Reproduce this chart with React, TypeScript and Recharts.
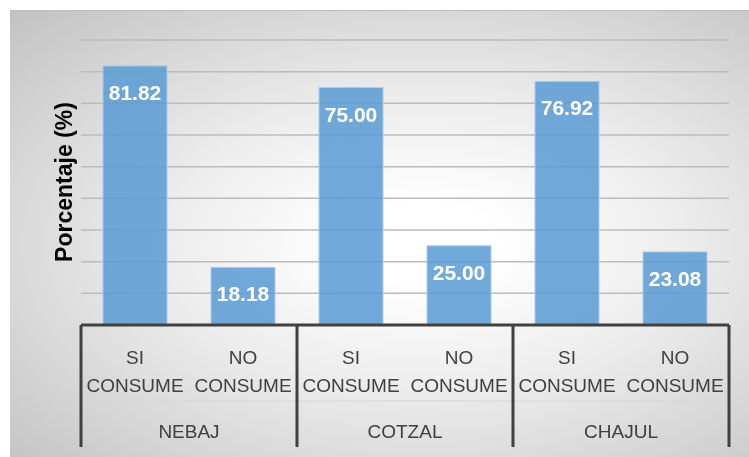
import { BarChart, Bar, XAxis, YAxis, CartesianGrid, LabelList } from "recharts";

const municipios = ["NEBAJ", "COTZAL", "CHAJUL"];
const respuestas = ["SI CONSUME", "NO CONSUME"];
const siConsume = [81.82, 75.0, 76.92];
const noConsume = [18.18, 25.0, 23.08];
const yTicks = [0, 10, 20, 30, 40, 50, 60, 70, 80, 90];

const rows = municipios.flatMap((m, i) => [
  { key: `${m}-si`, grupo: m, resp: respuestas[0], valor: siConsume[i] },
  { key: `${m}-no`, grupo: m, resp: respuestas[1], valor: noConsume[i] },
]);

const TEXT = "#404040";
const LINE = "#404040";
const SUB_H = 76; // first row of category labels
const AXIS_H = 124;
const FONT = "'Liberation Sans', Arial, sans-serif";

function CategoryTick(props: any) {
  const { x, y, payload, index } = props;
  const half = payload.offset ?? 54;
  const row = rows[index];
  const [w1, w2] = String(row.resp).split(" ");
  const isFirst = index % 2 === 0;
  const isLast = index === rows.length - 1;
  return (
    <g>
      <line x1={x - half} x2={x + half} y1={y + SUB_H} y2={y + SUB_H} stroke="#d6d6d6" strokeWidth={1} />
      <text x={x} y={y + 39} textAnchor="middle" fill={TEXT} fontSize={19} fontFamily={FONT}>{w1}</text>
      <text x={x} y={y + 67} textAnchor="middle" fill={TEXT} fontSize={19} fontFamily={FONT}>{w2}</text>
      {isFirst && (
        <>
          <line x1={x - half} x2={x - half} y1={y} y2={y + AXIS_H - 2} stroke={LINE} strokeWidth={3} />
          <text x={x + half} y={y + SUB_H + 37} textAnchor="middle" fill={TEXT} fontSize={19} fontFamily={FONT}>
            {row.grupo}
          </text>
        </>
      )}
      {isLast && (
        <line x1={x + half} x2={x + half} y1={y} y2={y + AXIS_H - 2} stroke={LINE} strokeWidth={3} />
      )}
    </g>
  );
}

function ValueLabel(props: any) {
  const { x, y, width, value } = props;
  return (
    <text x={x + width / 2} y={y + 34} textAnchor="middle" fill="#ffffff" fontSize={21} fontWeight="bold" fontFamily={FONT}>
      {Number(value).toFixed(2)}
    </text>
  );
}

export default function App() {
  return (
    <div style={{ position: "relative", width: 741, height: 441 }}>
      <div
        style={{
          position: "fixed",
          left: 10,
          top: 10,
          width: 739,
          height: 447,
          borderTop: "1px solid #bdbdbd",
          background: "radial-gradient(ellipse at 56% 52%, #ffffff 12%, #ececec 45%, #c2c2c2 100%)",
        }}
      />
      <div style={{ position: "relative" }}>
        <BarChart
          width={741}
          height={441}
          data={rows}
          margin={{ top: 32, right: 20, left: 73, bottom: 0 }}
          barSize={64}
        >
          <CartesianGrid vertical={false} stroke="#bcbcbc" strokeWidth={1.5} />
          <YAxis hide domain={[0, 90]} ticks={yTicks} />
          <XAxis
            dataKey="key"
            interval={0}
            height={AXIS_H}
            tickLine={false}
            tickSize={0}
            tickMargin={0}
            axisLine={{ stroke: LINE, strokeWidth: 3 }}
            tick={<CategoryTick />}
          />
          <Bar dataKey="valor" fill="#5b9bd5" fillOpacity={0.86} stroke="#a9cbea" strokeWidth={1} isAnimationActive={false}>
            <LabelList dataKey="valor" content={<ValueLabel />} />
          </Bar>
        </BarChart>
      </div>
      <svg width={100} height={441} style={{ position: "absolute", left: 0, top: 0 }}>
        <text
          transform="translate(64,174) rotate(-90)"
          textAnchor="middle"
          fill="#000000"
          fontSize={23}
          fontWeight="bold"
          fontFamily={FONT}
        >
          Porcentaje (%)
        </text>
      </svg>
    </div>
  );
}
